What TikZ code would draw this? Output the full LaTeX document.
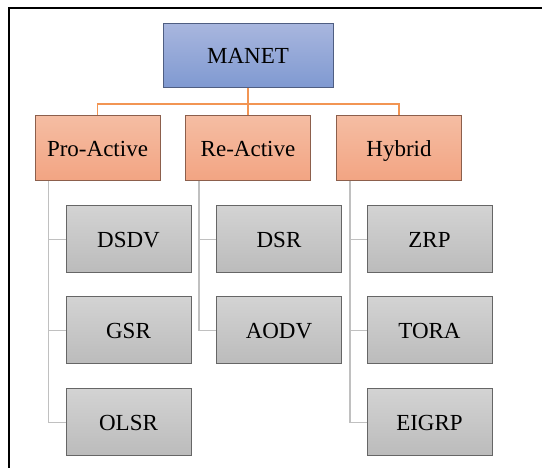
\documentclass[tikz,border=0pt]{standalone}
\usepackage{fontspec}
\setmainfont{Liberation Serif}
\usetikzlibrary{positioning}
\definecolor{topblue}{HTML}{A8B6DE}
\definecolor{botblue}{HTML}{7F99D1}
\definecolor{edgeblue}{HTML}{4F5E82}
\definecolor{toporange}{HTML}{F5BDA3}
\definecolor{botorange}{HTML}{F2A482}
\definecolor{edgeorange}{HTML}{8C5F4C}
\definecolor{topgray}{HTML}{D3D3D3}
\definecolor{botgray}{HTML}{BBBBBB}
\definecolor{edgegray}{HTML}{666666}
\definecolor{linkorange}{HTML}{F29553}
\definecolor{linkgray}{HTML}{C0C0C0}
\begin{document}
\begin{tikzpicture}[x=1pt,y=-1pt,
  boxtext/.style={font=\fontsize{23}{26}\selectfont,text height=15.5pt,text depth=0pt,line width=1pt},
  rootbox/.style={boxtext,draw=edgeblue,top color=topblue,bottom color=botblue,minimum width=170pt,minimum height=64pt},
  classbox/.style={boxtext,draw=edgeorange,top color=toporange,bottom color=botorange,minimum width=125pt,minimum height=65pt},
  protobox/.style={boxtext,draw=edgegray,top color=topgray,bottom color=botgray,minimum width=125pt,minimum height=67pt},
  uplink/.style={linkorange,line width=1.4pt},
  downlink/.style={linkgray,line width=1.4pt}]
\useasboundingbox (0,0) rectangle (542,468);
\fill[white] (0,0) rectangle (542,468);
% frame
\draw[line width=2pt] (9,470) -- (9,8) -- (544,8);
% top level
\node[rootbox] (manet) at (248,56) {MANET};
% classes
\node[classbox] (pro) at (97.5,148.5) {Pro-Active};
\node[classbox] (re) at (248,148.5) {Re-Active};
\node[classbox] (hyb) at (399,148.5) {Hybrid};
\coordinate (bus) at (248,104);
\draw[uplink] (manet) -- (bus) -| (pro);
\draw[uplink] (bus) -- (re);
\draw[uplink] (bus) -| (hyb);
% protocols
\node[protobox] (dsdv) at (128.5,239.5) {DSDV};
\node[protobox] (gsr) at (128.5,330.5) {GSR};
\node[protobox] (olsr) at (128.5,422.5) {OLSR};
\node[protobox] (dsr) at (279,239.5) {DSR};
\node[protobox] (aodv) at (279,330.5) {AODV};
\node[protobox] (zrp) at (429.5,239.5) {ZRP};
\node[protobox] (tora) at (429.5,330.5) {TORA};
\node[protobox] (eigrp) at (429.5,422.5) {EIGRP};
\draw[downlink] ([xshift=14pt]pro.south west) |- (olsr.west);
\draw[downlink] ([xshift=14pt]pro.south west) |- (gsr.west);
\draw[downlink] ([xshift=14pt]pro.south west) |- (dsdv.west);
\draw[downlink] ([xshift=14pt]re.south west) |- (aodv.west);
\draw[downlink] ([xshift=14pt]re.south west) |- (dsr.west);
\draw[downlink] ([xshift=14pt]hyb.south west) |- (eigrp.west);
\draw[downlink] ([xshift=14pt]hyb.south west) |- (tora.west);
\draw[downlink] ([xshift=14pt]hyb.south west) |- (zrp.west);
\end{tikzpicture}
\end{document}
